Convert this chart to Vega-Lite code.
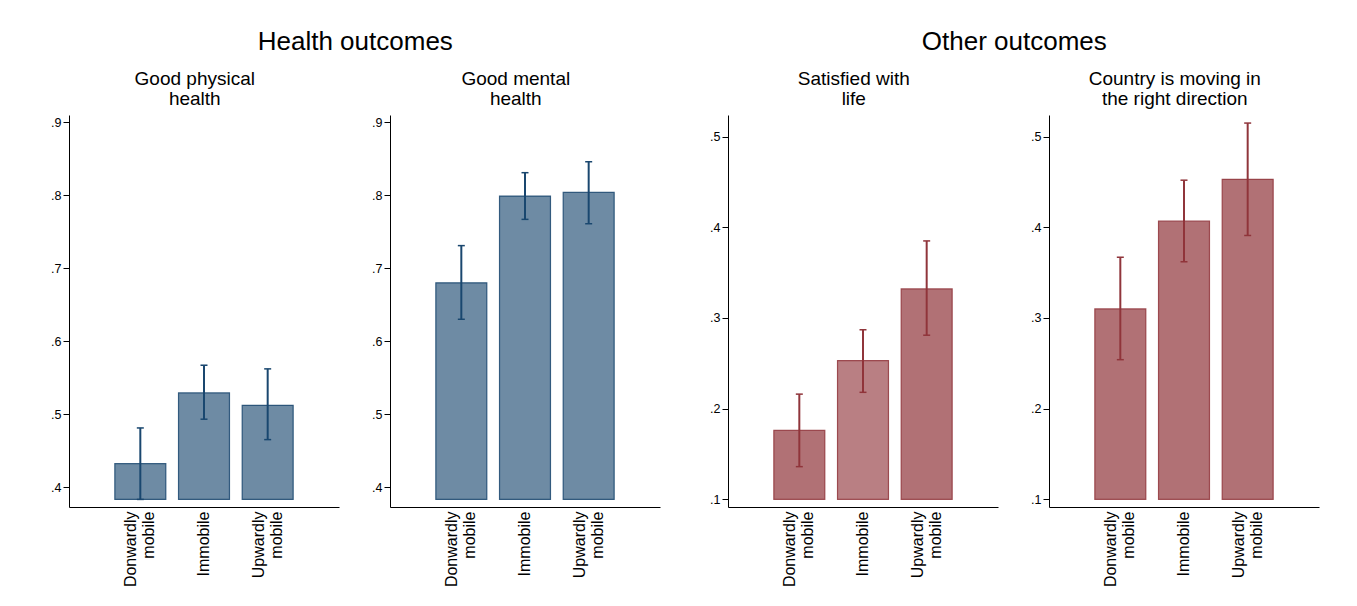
{
  "$schema": "https://vega.github.io/schema/vega-lite/v6.json",
  "background": "white",
  "padding": {"left": 50, "top": 29, "right": 10, "bottom": 5},
  "config": {
    "font": "Liberation Sans",
    "view": {"stroke": null},
    "title": {"font": "Liberation Sans", "fontWeight": "normal", "color": "black", "anchor": "middle", "frame": "bounds"},
    "axis": {"labelFont": "Liberation Sans", "labelColor": "black", "domainColor": "black", "tickColor": "black", "grid": false, "title": null},
    "axisX": {"labelAngle": 270, "labelAlign": "right", "labelBaseline": "middle", "ticks": false, "labelFontSize": 16, "labelLineHeight": 18, "labelPadding": 4, "labelExpr": "split(datum.label, ' ')", "labelLimit": 0,
      "labelOffset": {"condition": {"test": "datum.value != 'Immobile'", "value": -9}, "value": 0}},
    "axisY": {"labelFontSize": 12.5, "tickSize": 6, "labelPadding": 2, "minExtent": 18, "maxExtent": 18, "labelExpr": "substring(format(datum.value, '.1f'), 1)"}
  },
  "datasets": {
    "stats": [
      {"panel": "phys", "group": "Donwardly mobile", "mean": 0.432, "lo": 0.383, "hi": 0.481},
      {"panel": "phys", "group": "Immobile", "mean": 0.529, "lo": 0.493, "hi": 0.567},
      {"panel": "phys", "group": "Upwardly mobile", "mean": 0.512, "lo": 0.465, "hi": 0.562},
      {"panel": "mental", "group": "Donwardly mobile", "mean": 0.680, "lo": 0.630, "hi": 0.731},
      {"panel": "mental", "group": "Immobile", "mean": 0.799, "lo": 0.767, "hi": 0.831},
      {"panel": "mental", "group": "Upwardly mobile", "mean": 0.804, "lo": 0.761, "hi": 0.846},
      {"panel": "life", "group": "Donwardly mobile", "mean": 0.176, "lo": 0.136, "hi": 0.216},
      {"panel": "life", "group": "Immobile", "mean": 0.253, "lo": 0.218, "hi": 0.287},
      {"panel": "life", "group": "Upwardly mobile", "mean": 0.332, "lo": 0.281, "hi": 0.385},
      {"panel": "country", "group": "Donwardly mobile", "mean": 0.310, "lo": 0.254, "hi": 0.367},
      {"panel": "country", "group": "Immobile", "mean": 0.407, "lo": 0.362, "hi": 0.452},
      {"panel": "country", "group": "Upwardly mobile", "mean": 0.453, "lo": 0.391, "hi": 0.515}
    ]
  },
  "spacing": 49,
  "hconcat": [
    {
      "title": {"text": "Health outcomes", "fontSize": 26, "offset": 15},
      "spacing": 32,
      "hconcat": [
        {
          "width": 270, "height": 392,
          "title": {"text": ["Good physical", "health"], "fontSize": 19, "lineHeight": 20, "offset": 6},
          "data": {"name": "stats"},
          "transform": [{"filter": "datum.panel == 'phys'"}],
          "encoding": {"x": {"field": "group", "type": "nominal", "sort": ["Donwardly mobile", "Immobile", "Upwardly mobile"], "scale": {"paddingInner": 0.2, "paddingOuter": 0.72}}},
          "layer": [
            {"mark": {"type": "rule", "color": "#1A476F", "strokeWidth": 2},
             "encoding": {"y": {"field": "lo", "type": "quantitative", "scale": {"domain": [0.3726, 0.9101], "nice": false, "zero": false}, "axis": {"values": [0.4, 0.5, 0.6, 0.7, 0.8, 0.9]}}, "y2": {"field": "hi"}}},
            {"mark": {"type": "tick", "color": "#1A476F", "size": 7, "thickness": 1.5, "opacity": 1}, "encoding": {"y": {"field": "hi", "type": "quantitative"}}},
            {"mark": {"type": "tick", "color": "#1A476F", "size": 7, "thickness": 1.5, "opacity": 1}, "encoding": {"y": {"field": "lo", "type": "quantitative"}}},
            {"mark": {"type": "bar", "fill": "#1A476F", "fillOpacity": 0.63, "stroke": "#1A476F", "strokeWidth": 1.2, "strokeOpacity": 0.85},
             "encoding": {"y": {"field": "mean", "type": "quantitative"}, "y2": {"datum": 0.383}}}
          ]
        },
        {
          "width": 270, "height": 392,
          "title": {"text": ["Good mental", "health"], "fontSize": 19, "lineHeight": 20, "offset": 6},
          "data": {"name": "stats"},
          "transform": [{"filter": "datum.panel == 'mental'"}],
          "encoding": {"x": {"field": "group", "type": "nominal", "sort": ["Donwardly mobile", "Immobile", "Upwardly mobile"], "scale": {"paddingInner": 0.2, "paddingOuter": 0.72}}},
          "layer": [
            {"mark": {"type": "rule", "color": "#1A476F", "strokeWidth": 2},
             "encoding": {"y": {"field": "lo", "type": "quantitative", "scale": {"domain": [0.3726, 0.9101], "nice": false, "zero": false}, "axis": {"values": [0.4, 0.5, 0.6, 0.7, 0.8, 0.9]}}, "y2": {"field": "hi"}}},
            {"mark": {"type": "tick", "color": "#1A476F", "size": 7, "thickness": 1.5, "opacity": 1}, "encoding": {"y": {"field": "hi", "type": "quantitative"}}},
            {"mark": {"type": "tick", "color": "#1A476F", "size": 7, "thickness": 1.5, "opacity": 1}, "encoding": {"y": {"field": "lo", "type": "quantitative"}}},
            {"mark": {"type": "bar", "fill": "#1A476F", "fillOpacity": 0.63, "stroke": "#1A476F", "strokeWidth": 1.2, "strokeOpacity": 0.85},
             "encoding": {"y": {"field": "mean", "type": "quantitative"}, "y2": {"datum": 0.383}}}
          ]
        }
      ]
    },
    {
      "title": {"text": "Other outcomes", "fontSize": 26, "offset": 15},
      "spacing": 32,
      "hconcat": [
        {
          "width": 270, "height": 392,
          "title": {"text": ["Satisfied with", "life"], "fontSize": 19, "lineHeight": 20, "offset": 6},
          "data": {"name": "stats"},
          "transform": [{"filter": "datum.panel == 'life'"}],
          "encoding": {"x": {"field": "group", "type": "nominal", "sort": ["Donwardly mobile", "Immobile", "Upwardly mobile"], "scale": {"paddingInner": 0.2, "paddingOuter": 0.72}}},
          "layer": [
            {"mark": {"type": "rule", "color": "#90353B", "strokeWidth": 2},
             "encoding": {"y": {"field": "lo", "type": "quantitative", "scale": {"domain": [0.0915, 0.5239], "nice": false, "zero": false}, "axis": {"values": [0.1, 0.2, 0.3, 0.4, 0.5]}}, "y2": {"field": "hi"}}},
            {"mark": {"type": "tick", "color": "#90353B", "size": 7, "thickness": 1.5, "opacity": 1}, "encoding": {"y": {"field": "hi", "type": "quantitative"}}},
            {"mark": {"type": "tick", "color": "#90353B", "size": 7, "thickness": 1.5, "opacity": 1}, "encoding": {"y": {"field": "lo", "type": "quantitative"}}},
            {"mark": {"type": "bar", "fill": "#90353B", "stroke": "#90353B", "strokeWidth": 1.2, "strokeOpacity": 0.85},
             "encoding": {"y": {"field": "mean", "type": "quantitative"}, "y2": {"datum": 0.1},
               "fillOpacity": {"condition": {"test": "datum.group == 'Immobile'", "value": 0.63}, "value": 0.7}}}
          ]
        },
        {
          "width": 270, "height": 392,
          "title": {"text": ["Country is moving in", "the right direction"], "fontSize": 19, "lineHeight": 20, "offset": 6},
          "data": {"name": "stats"},
          "transform": [{"filter": "datum.panel == 'country'"}],
          "encoding": {"x": {"field": "group", "type": "nominal", "sort": ["Donwardly mobile", "Immobile", "Upwardly mobile"], "scale": {"paddingInner": 0.2, "paddingOuter": 0.72}}},
          "layer": [
            {"mark": {"type": "rule", "color": "#90353B", "strokeWidth": 2},
             "encoding": {"y": {"field": "lo", "type": "quantitative", "scale": {"domain": [0.0915, 0.5239], "nice": false, "zero": false}, "axis": {"values": [0.1, 0.2, 0.3, 0.4, 0.5]}}, "y2": {"field": "hi"}}},
            {"mark": {"type": "tick", "color": "#90353B", "size": 7, "thickness": 1.5, "opacity": 1}, "encoding": {"y": {"field": "hi", "type": "quantitative"}}},
            {"mark": {"type": "tick", "color": "#90353B", "size": 7, "thickness": 1.5, "opacity": 1}, "encoding": {"y": {"field": "lo", "type": "quantitative"}}},
            {"mark": {"type": "bar", "fill": "#90353B", "fillOpacity": 0.7, "stroke": "#90353B", "strokeWidth": 1.2, "strokeOpacity": 0.85},
             "encoding": {"y": {"field": "mean", "type": "quantitative"}, "y2": {"datum": 0.1}}}
          ]
        }
      ]
    }
  ]
}
